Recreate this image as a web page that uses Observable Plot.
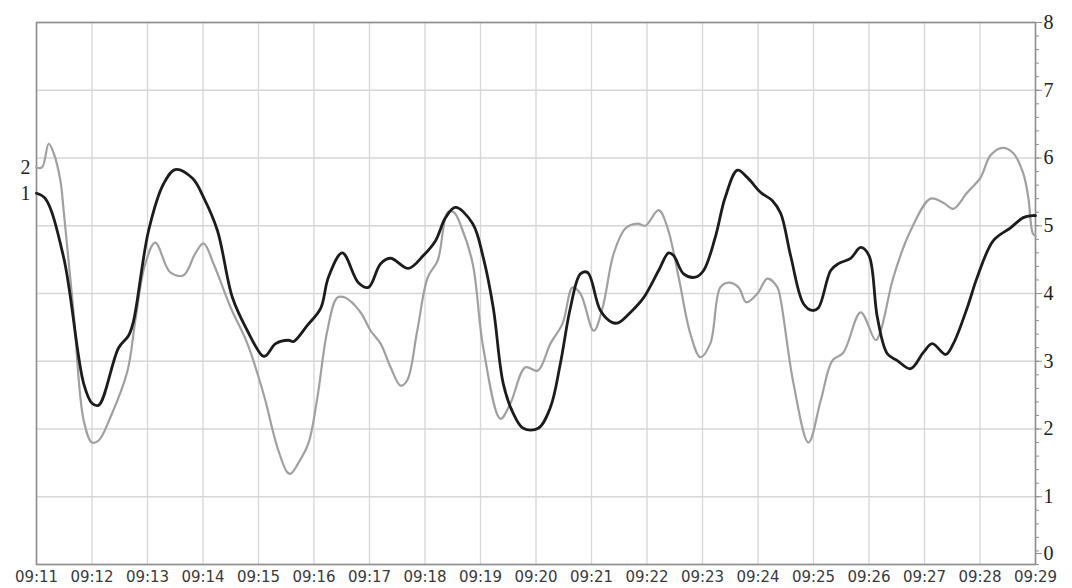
<!DOCTYPE html>
<html>
<head>
<meta charset="utf-8">
<script src="https://cdn.jsdelivr.net/npm/d3@7"></script>
<script src="https://cdn.jsdelivr.net/npm/@observablehq/plot@0.6"></script>
<style>
  html, body { margin: 0; padding: 0; background: #fff; }
</style>
</head>
<body>
<div id="chart"></div>
<script>
// Time in minutes after 09:11
const xTickLabels = ["09:11","09:12","09:13","09:14","09:15","09:16","09:17","09:18","09:19","09:20","09:21","09:22","09:23","09:24","09:25","09:26","09:27","09:28","09:29"];
const yTicks = [0,1,2,3,4,5,6,7,8];
const seriesNames = ["1", "2"];

// Series 1 (black)
const blackT = [0,0.16,0.49,0.85,1.0,1.12,1.48,1.66,1.75,2.02,2.29,2.5,2.81,3.01,3.26,3.53,3.8,4.07,4.13,4.31,4.54,4.63,4.88,5.12,5.26,5.51,5.80,5.98,6.2,6.38,6.7,6.97,7.19,7.37,7.55,7.86,8.05,8.23,8.41,8.59,8.77,9.04,9.26,9.44,9.62,9.8,9.93,10.16,10.38,10.49,10.7,10.94,11.21,11.39,11.48,11.66,11.87,12.02,12.23,12.41,12.63,12.81,13.05,13.26,13.41,13.59,13.82,13.98,14.09,14.31,14.45,14.67,14.85,15.0,15.15,15.33,15.51,15.75,15.98,16.14,16.38,16.52,16.77,16.95,17.24,17.55,17.78,17.95,18.0];
const blackV = [5.48,5.40,4.53,2.67,2.38,2.35,3.2,3.38,3.6,4.93,5.62,5.83,5.70,5.42,4.93,3.94,3.45,3.08,3.08,3.26,3.31,3.29,3.53,3.78,4.24,4.6,4.16,4.09,4.44,4.52,4.37,4.56,4.78,5.12,5.27,5.03,4.53,3.79,2.67,2.23,2.01,2.01,2.32,2.97,3.79,4.29,4.31,3.75,3.57,3.57,3.72,3.94,4.34,4.6,4.56,4.29,4.24,4.34,4.83,5.42,5.82,5.71,5.49,5.37,5.18,4.55,3.85,3.75,3.79,4.34,4.44,4.52,4.68,4.56,3.65,3.11,3.01,2.89,3.13,3.26,3.1,3.26,3.79,4.24,4.78,4.97,5.12,5.15,5.15];

// Series 2 (gray)
const grayT = [0,0.1,0.22,0.31,0.43,0.49,0.67,0.85,1.0,1.12,1.33,1.64,1.78,1.96,2.14,2.41,2.65,2.86,3.01,3.19,3.5,3.8,4.09,4.34,4.52,4.58,4.72,4.9,5.06,5.24,5.42,5.56,5.84,6.02,6.2,6.38,6.56,6.68,6.86,7.05,7.23,7.41,7.52,7.66,7.86,8.05,8.36,8.54,8.81,9.03,9.26,9.48,9.66,9.8,10.04,10.2,10.4,10.61,10.83,10.97,11.21,11.37,11.57,11.78,11.96,12.14,12.32,12.47,12.65,12.79,12.99,13.17,13.35,13.41,13.64,13.91,14.13,14.34,14.54,14.85,15.12,15.21,15.44,15.75,16.11,16.34,16.52,16.77,17.01,17.19,17.41,17.6,17.78,17.87,17.95,18.0];
const grayV = [5.86,5.86,6.21,6.07,5.67,5.22,3.70,2.13,1.80,1.83,2.17,2.86,3.6,4.44,4.75,4.31,4.27,4.59,4.74,4.44,3.79,3.26,2.52,1.73,1.36,1.34,1.5,1.79,2.46,3.45,3.94,3.94,3.72,3.45,3.26,2.91,2.64,2.72,3.45,4.24,4.49,5.2,5.2,4.97,4.44,3.2,2.15,2.38,2.91,2.86,3.26,3.56,4.09,4.0,3.45,3.79,4.59,4.96,5.03,5.0,5.23,4.97,4.24,3.41,3.06,3.26,4.09,4.16,4.09,3.87,4.0,4.22,4.09,3.9,2.67,1.80,2.42,3.01,3.13,3.72,3.31,3.45,4.24,4.93,5.4,5.34,5.25,5.49,5.71,6.04,6.15,6.07,5.77,5.42,4.89,4.85];

const black = blackT.map((t, i) => ({t, v: blackV[i]}));
const gray = grayT.map((t, i) => ({t, v: grayV[i]}));
const xTicks = xTickLabels.map((_, i) => i);
const minorTicks = d3.range(0, 41).map(i => i / 5);
const upperTicks = yTicks.filter(d => d > 0);
const bottomTick = yTicks.filter(d => d === 0);
const startLabels = [
  {v: grayV[0], name: seriesNames[1]},
  {v: blackV[0], name: seriesNames[0]}
];

const yLabelStyle = {anchor: "right", tickSize: 6, tickPadding: 2, stroke: "#8f8f8f", fontSize: 20, fontFamily: "Liberation Serif", fill: "#222", tickFormat: d => String(d)};

const chart = Plot.plot({
  width: 1072,
  height: 588,
  marginLeft: 36,
  marginRight: 37,
  marginTop: 22,
  marginBottom: 24,
  style: {background: "#fff"},
  x: {domain: [0, 18], label: null},
  y: {domain: [0, 8], label: null},
  marks: [
    Plot.gridX(xTicks, {stroke: "#d6d6d6", strokeOpacity: 1, strokeWidth: 1.3}),
    Plot.gridY(yTicks, {stroke: "#d6d6d6", strokeOpacity: 1, strokeWidth: 1.3}),
    Plot.frame({stroke: "#8f8f8f", strokeWidth: 1.6}),
    Plot.line(gray, {x: "t", y: "v", stroke: "#a0a0a0", strokeWidth: 2.2, curve: "catmull-rom"}),
    Plot.line(black, {x: "t", y: "v", stroke: "#1c1c1c", strokeWidth: 2.8, curve: "catmull-rom"}),
    Plot.axisX(xTicks, {tickSize: 0, tickPadding: 7, tickFormat: i => xTickLabels[i], fontSize: 15, fontFamily: "DejaVu Sans", fill: "#3a3a3a"}),
    Plot.axisY(minorTicks, {anchor: "right", tickSize: 3, tickFormat: () => "", stroke: "#8f8f8f"}),
    Plot.axisY(upperTicks, yLabelStyle),
    Plot.axisY(bottomTick, {...yLabelStyle, dy: -11}),
    Plot.text(startLabels, {x: 0, y: "v", text: "name", textAnchor: "end", dx: -6, fontSize: 20, fontFamily: "Liberation Serif", fill: "#222"})
  ]
});
document.getElementById("chart").appendChild(chart);
</script>
</body>
</html>
